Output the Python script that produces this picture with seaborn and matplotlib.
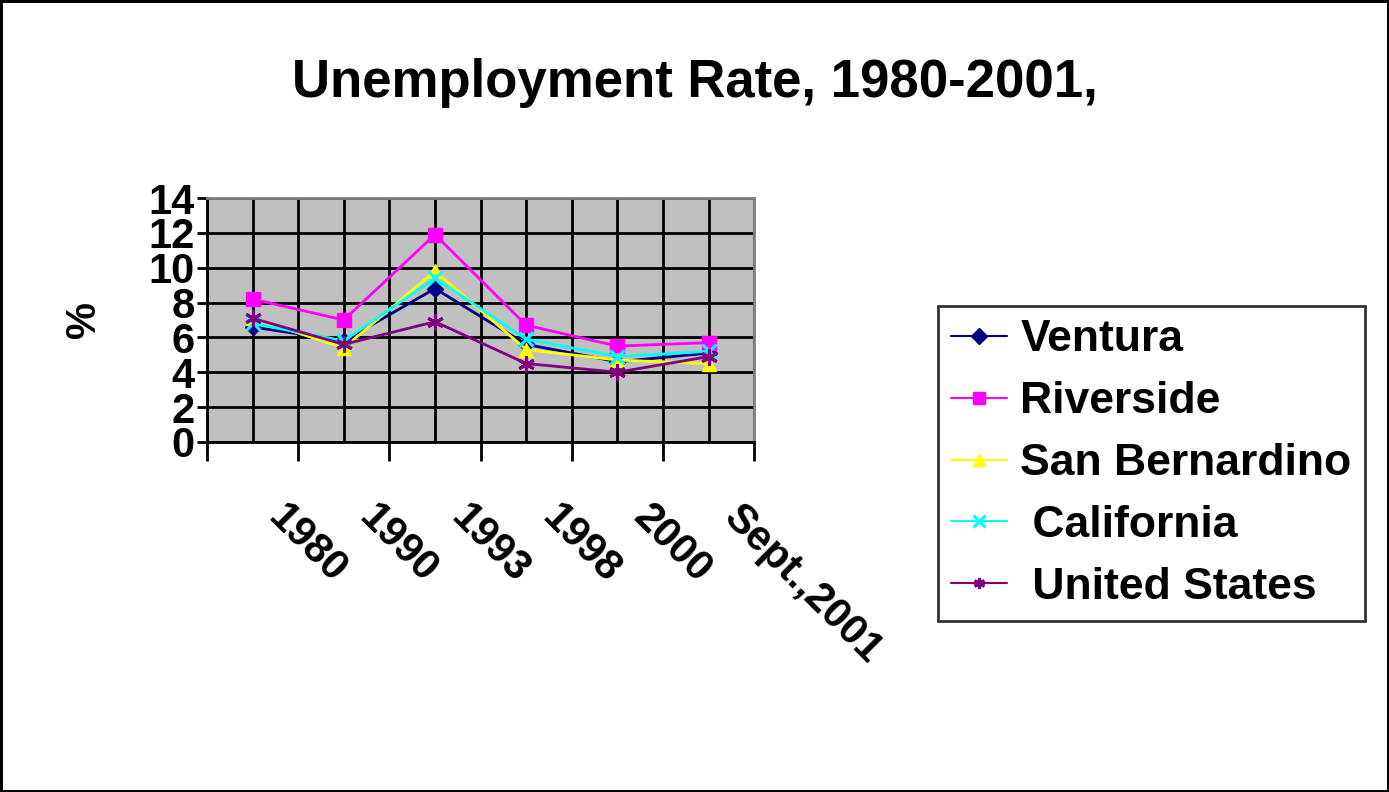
import matplotlib
matplotlib.use("Agg")
import matplotlib.pyplot as plt
import matplotlib.transforms as mtransforms
import seaborn as sns
import pandas as pd

categories = ["1980", "1990", "1993", "1998", "2000", "Sept.,2001"]
ventura = [6.6, 5.8, 8.8, 5.6, 4.6, 5.1]
riverside = [8.2, 7.0, 11.9, 6.7, 5.5, 5.7]
san_bernardino = [7.1, 5.4, 9.8, 5.3, 4.7, 4.5]
california = [6.8, 5.8, 9.4, 5.9, 4.9, 5.2]
united_states = [7.1, 5.6, 6.9, 4.5, 4.0, 4.9]

series_names = ["Ventura", "Riverside", "San Bernardino", " California", " United States"]
series_values = [ventura, riverside, san_bernardino, california, united_states]
colors = ["#000080", "#FF00FF", "#FFFF00", "#00FFFF", "#800080"]
markers = ["D", "s", "^", "x", (6, 2, 0)]
msizes = [8, 10, 10, 10, 12]

sns.set_style("white")
plt.rcParams['font.family'] = ['Liberation Sans', 'DejaVu Sans']
plt.rcParams['font.weight'] = 'bold'
for k in ['text.color', 'axes.labelcolor', 'xtick.color', 'ytick.color']:
    plt.rcParams[k] = 'black'

fig = plt.figure(figsize=(13.89, 7.92), dpi=100)
fig.patch.set_edgecolor("black")
fig.patch.set_linewidth(2.5)
ax = fig.add_axes([0.149, 0.442, 0.394, 0.308])
ax.set_facecolor("#C0C0C0")

rows = []
for name, vals in zip(series_names, series_values):
    for i, v in enumerate(vals):
        rows.append({"series": name, "x": i, "value": v})
df = pd.DataFrame(rows)

for name, col, mk, ms in zip(series_names, colors, markers, msizes):
    sub = df[df["series"] == name]
    sns.lineplot(data=sub, x="x", y="value", ax=ax, color=col, marker=mk,
                 markersize=ms, markeredgecolor=col,
                 markeredgewidth=2.2 if mk in ("x", (6, 2, 0)) else 1,
                 linewidth=2, label=name, zorder=3)

ax.set_xlim(-0.5, 5.5)
ax.set_ylim(0, 14)
ax.set_yticks(range(0, 15, 2))
ax.set_yticklabels([str(v) for v in range(0, 15, 2)], fontsize=30, fontweight='bold')
ax.set_xticks([i - 0.5 for i in range(7)])
ax.set_xticklabels([])
ax.set_xticks(list(range(6)), minor=True)
ax.set_xticklabels(categories, minor=True, rotation=-45, ha='left', va='top',
                   rotation_mode='anchor', fontsize=30, fontweight='bold')
ax.tick_params(axis='x', which='major', length=14, width=2, direction='out', bottom=True, color='black')
ax.tick_params(axis='x', which='minor', length=0, pad=40)
ax.tick_params(axis='y', which='major', length=7, width=2, direction='out', left=True, color='black', pad=2)
offset = mtransforms.ScaledTranslation(0.36, 0.0, fig.dpi_scale_trans)
for lbl in ax.get_xticklabels(minor=True):
    lbl.set_transform(lbl.get_transform() + offset)

ax.grid(True, which='both', axis='x', color='black', linewidth=2)
ax.grid(True, which='major', axis='y', color='black', linewidth=2)
ax.set_axisbelow(True)
for s in ["top", "right"]:
    ax.spines[s].set_color("#808080")
    ax.spines[s].set_linewidth(2)
for s in ["left", "bottom"]:
    ax.spines[s].set_color("black")
    ax.spines[s].set_linewidth(2)

ax.set_xlabel("")
ax.set_ylabel("%", fontsize=30, fontweight='bold', labelpad=32)

leg = ax.legend(loc='upper left', bbox_to_anchor=(938 / 1389, 1 - 306 / 792),
                bbox_transform=fig.transFigure, fontsize=32,
                frameon=True, fancybox=False, edgecolor='black', borderpad=0.3,
                borderaxespad=0, labelspacing=0.47, handlelength=1.25,
                handletextpad=0.3)
leg.get_frame().set_linewidth(2)
for t in leg.get_texts():
    t.set_fontweight('bold')
for h in leg.legend_handles:
    h.set_markersize(8)
    h.set_linewidth(1.5)

fig.text(0.5, 0.895, "Unemployment Rate, 1980-2001,", ha='center', va='center',
         fontsize=38, fontweight='bold')

fig.savefig("out.png", dpi=100)
